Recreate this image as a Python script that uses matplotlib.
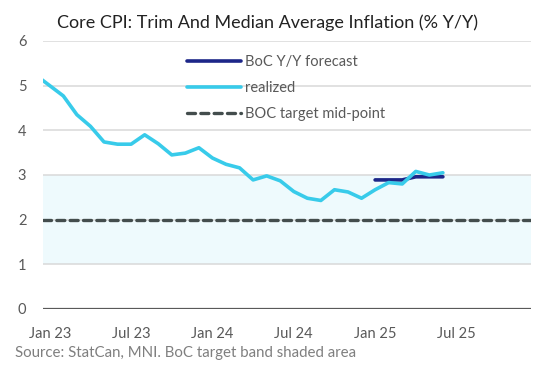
import numpy as np
import pandas as pd
import matplotlib
matplotlib.use("Agg")
import matplotlib.pyplot as plt

plt.rcParams['font.family'] = ['Lato', 'DejaVu Sans']

# monthly data, Dec 22 .. Jun 25 (Dec 22 sits just off the left edge)
months = pd.period_range("2022-12", "2025-06", freq="M")
realized = [5.23, 5.00, 4.77, 4.35, 4.09, 3.74, 3.69, 3.69, 3.90, 3.70, 3.45, 3.49, 3.61,
            3.38, 3.24, 3.16, 2.89, 2.98, 2.87, 2.63, 2.48, 2.43, 2.67, 2.62, 2.48,
            2.67, 2.83, 2.80, 3.08, 3.00, 3.05]
fc_months = pd.period_range("2025-01", "2025-06", freq="M")
forecast = [2.89, 2.89, 2.89, 2.96, 2.96, 2.96]
target_mid = 2.0
band_low, band_high = 1.0, 3.0

axis_start = pd.Period("2023-01", freq="M")
n_cats = 36
tick_labels = ["Jan 23", "Jul 23", "Jan 24", "Jul 24", "Jan 25", "Jul 25"]
tick_pos = [0, 6, 12, 18, 24, 30]

def idx(ps):
    return np.array([(p - axis_start).n for p in ps])

W, H = 541, 369
fig = plt.figure(figsize=(W / 100, H / 100), dpi=100)
ax = fig.add_axes([43 / W, 1 - 309 / H, (531 - 43) / W, (309 - 41) / H])

ax.axhspan(band_low, band_high, color="#eefafd", zorder=0, lw=0)
for y in range(1, 7):
    ax.axhline(y, color="#d9d9d9", lw=1.1, zorder=1)
ax.axhline(0, color="#595959", lw=1.6, zorder=1)

l_fc, = ax.plot(idx(fc_months), forecast, color="#1c2688", lw=2.6, zorder=3,
                solid_capstyle="round", label="BoC Y/Y forecast")
l_re, = ax.plot(idx(months), realized, color="#38cbea", lw=2.6, zorder=4,
                solid_capstyle="round", label="realized")
l_tg, = ax.plot([-0.5, n_cats - 0.5], [target_mid, target_mid], color="#434d4d", lw=2.4,
                dashes=(2.4, 1.6), dash_capstyle="round", zorder=2,
                label="BOC target mid-point")

ax.set_xlim(-0.5, n_cats - 0.5)
ax.set_ylim(0, 6)
ax.set_yticks(range(0, 7))
ax.set_xticks(tick_pos)
ax.set_xticklabels(tick_labels)
ax.tick_params(axis="both", length=0, labelsize=10.5, labelcolor="#595959")
ax.tick_params(axis="y", pad=12)
ax.tick_params(axis="x", pad=13)
for s in ax.spines.values():
    s.set_visible(False)

fig.legend(handles=[l_fc, l_re, l_tg], loc="upper left",
           bbox_to_anchor=(180 / W, 1 - 48 / H), frameon=False, fontsize=10.5,
           handlelength=3.7, handletextpad=0.25, labelspacing=0.8, borderpad=0,
           labelcolor="#595959")

fig.text(57 / W, 1 - 23 / H, "Core CPI: Trim And Median Average Inflation (% Y/Y)",
         fontsize=13, color="#222222", va="center", ha="left")
fig.text(15 / W, 1 - 353 / H, "Source: StatCan, MNI. BoC target band shaded area",
         fontsize=10.8, color="#7f7f7f", va="center", ha="left")

fig.savefig("out.png", dpi=100)
